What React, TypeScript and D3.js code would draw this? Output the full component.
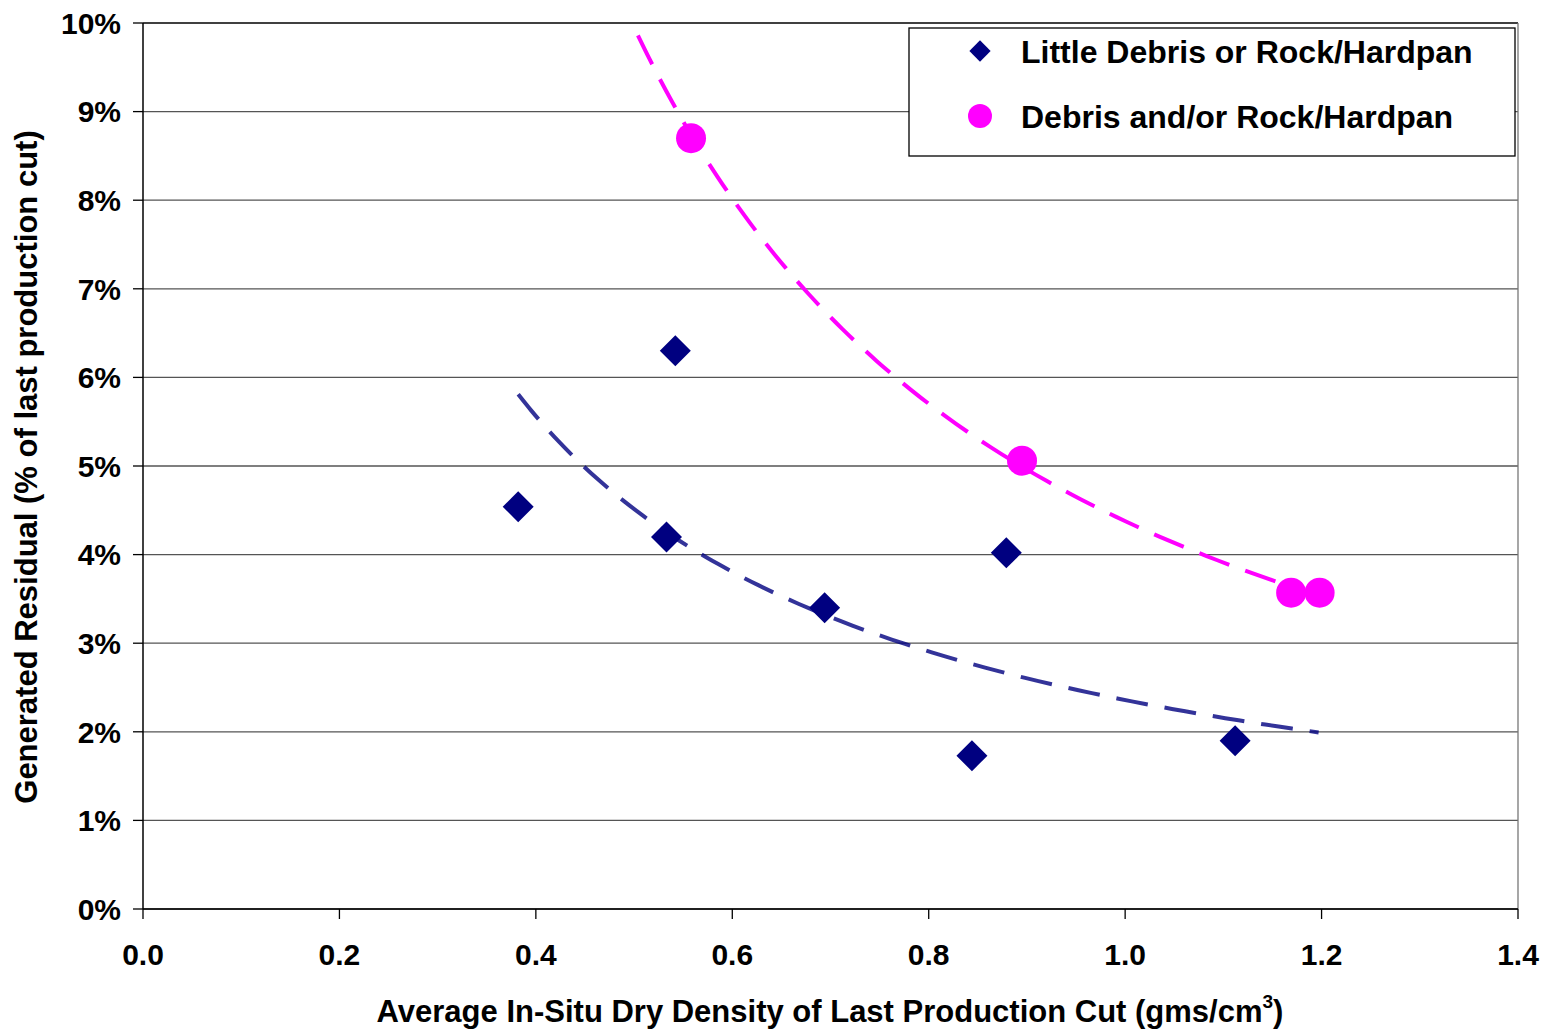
import React from 'react';
import * as d3 from 'd3';

// Little Debris or Rock/Hardpan
const littleX = [0.382, 0.542, 0.533, 0.694, 0.879, 0.844, 1.112];
const littleY = [4.54, 6.30, 4.20, 3.40, 4.02, 1.73, 1.90];

// Debris and/or Rock/Hardpan
const debrisX = [0.558, 0.895, 1.169, 1.198];
const debrisY = [8.70, 5.06, 3.57, 3.57];

// trendline extents (x), as drawn in the original
const littleTrendRange = [0.382, 1.197];
const debrisTrendRange = [0.504, 1.198];

const xTicks = [0, 0.2, 0.4, 0.6, 0.8, 1.0, 1.2, 1.4];
const yTicks = [0, 1, 2, 3, 4, 5, 6, 7, 8, 9, 10];

const seriesNames = ['Little Debris or Rock/Hardpan', 'Debris and/or Rock/Hardpan'];
const NAVY = '#000080';
const MAGENTA = '#FF00FF';

const W = 1551;
const H = 1032;
const margin = { top: 23, right: 33, bottom: 123, left: 143 };
const FONT = 'Liberation Sans, Arial, sans-serif';

// power-law least squares fit (y = a * x^b), same as a spreadsheet power trendline
function powerFit(xs: number[], ys: number[]) {
  const lx = xs.map(Math.log);
  const ly = ys.map(Math.log);
  const mx = d3.mean(lx) as number;
  const my = d3.mean(ly) as number;
  const sxy = d3.sum(lx, (v, i) => (v - mx) * (ly[i] - my));
  const sxx = d3.sum(lx, (v) => (v - mx) ** 2);
  const b = sxy / sxx;
  const a = Math.exp(my - b * mx);
  return (x: number) => a * Math.pow(x, b);
}

export default function App() {
  const innerW = W - margin.left - margin.right;
  const innerH = H - margin.top - margin.bottom;

  const x = d3.scaleLinear().domain([0, 1.4]).range([margin.left, margin.left + innerW]);
  const y = d3.scaleLinear().domain([0, 10]).range([margin.top + innerH, margin.top]);

  const line = d3
    .line<[number, number]>()
    .x((d) => x(d[0]))
    .y((d) => y(d[1]))
    .curve(d3.curveMonotoneX);

  const trend = (xs: number[], ys: number[], range: number[]) => {
    const f = powerFit(xs, ys);
    const pts: [number, number][] = d3
      .range(0, 61)
      .map((i) => range[0] + ((range[1] - range[0]) * i) / 60)
      .map((v) => [v, f(v)]);
    return line(pts) ?? '';
  };

  const diamondPath = d3.symbol().type(d3.symbolDiamond2).size(2 * 17.5 * 17.5)() ?? '';
  const legendDiamond = d3.symbol().type(d3.symbolDiamond2).size(2 * 12 * 12)() ?? '';

  const x0 = x(0);
  const y0 = y(0);

  return (
    <svg
      width={W}
      height={H}
      style={{ position: 'absolute', left: 0, top: 0, background: '#fff' }}
      fontFamily={FONT}
    >
      {/* gridlines */}
      {yTicks.map((t) => (
        <line
          key={`g${t}`}
          x1={x0}
          x2={x(1.4)}
          y1={y(t)}
          y2={y(t)}
          stroke={t === 10 ? '#000' : '#555'}
          strokeWidth={1.3}
        />
      ))}
      {/* right border */}
      <line x1={x(1.4)} x2={x(1.4)} y1={y(10)} y2={y0} stroke="#777" strokeWidth={1.3} />

      {/* axes */}
      <line x1={x0} x2={x0} y1={y(10)} y2={y0} stroke="#000" strokeWidth={1.5} />
      <line x1={x0} x2={x(1.4)} y1={y0} y2={y0} stroke="#000" strokeWidth={1.5} />
      {yTicks.map((t) => (
        <g key={`yt${t}`}>
          <line x1={x0 - 10} x2={x0} y1={y(t)} y2={y(t)} stroke="#000" strokeWidth={1.3} />
          <text
            x={x0 - 22}
            y={y(t)}
            dy="0.36em"
            textAnchor="end"
            fontSize={30}
            fontWeight="bold"
          >
            {`${t}%`}
          </text>
        </g>
      ))}
      {xTicks.map((t) => (
        <g key={`xt${t}`}>
          <line x1={x(t)} x2={x(t)} y1={y0} y2={y0 + 10} stroke="#000" strokeWidth={1.3} />
          <text x={x(t)} y={y0 + 56} textAnchor="middle" fontSize={30} fontWeight="bold">
            {d3.format('.1f')(t)}
          </text>
        </g>
      ))}

      {/* axis titles */}
      <text x={830} y={1022} textAnchor="middle" fontSize={31} fontWeight="bold">
        Average In-Situ Dry Density of Last Production Cut (gms/cm
        <tspan fontSize={19} dy={-14}>3</tspan>
        <tspan dy={14}>)</tspan>
      </text>
      <text
        transform={`translate(37, ${margin.top + innerH / 2 + 1}) rotate(-90)`}
        textAnchor="middle"
        fontSize={31}
        fontWeight="bold"
      >
        Generated Residual (% of last production cut)
      </text>

      {/* trendlines */}
      <path
        d={trend(littleX, littleY, littleTrendRange)}
        fill="none"
        stroke={NAVY}
        strokeOpacity={0.8}
        strokeWidth={4}
        strokeDasharray="32,17"
      />
      <path
        d={trend(debrisX, debrisY, debrisTrendRange)}
        fill="none"
        stroke={MAGENTA}
        strokeWidth={4}
        strokeDasharray="32,17"
      />

      {/* points */}
      {littleX.map((v, i) => (
        <path
          key={`d${i}`}
          d={diamondPath}
          transform={`translate(${x(v)},${y(littleY[i])})`}
          fill={NAVY}
        />
      ))}
      {debrisX.map((v, i) => (
        <circle key={`c${i}`} cx={x(v)} cy={y(debrisY[i])} r={15} fill={MAGENTA} />
      ))}

      {/* legend */}
      <g>
        <rect x={909} y={28} width={606} height={128} fill="#fff" stroke="#000" strokeWidth={1.3} />
        <path d={legendDiamond} transform="translate(980,51)" fill={NAVY} />
        <text x={1021} y={51} dy="0.36em" fontSize={32} fontWeight="bold">
          {seriesNames[0]}
        </text>
        <circle cx={980} cy={116} r={12} fill={MAGENTA} />
        <text x={1021} y={116} dy="0.36em" fontSize={32} fontWeight="bold">
          {seriesNames[1]}
        </text>
      </g>
    </svg>
  );
}
